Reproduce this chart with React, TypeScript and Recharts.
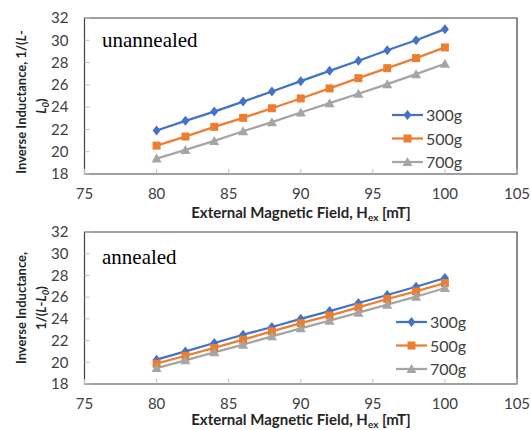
import React from 'react';
import { LineChart, Line, XAxis, YAxis, ReferenceArea, Legend, Label } from 'recharts';

const fieldValues = [80, 82, 84, 86, 88, 90, 92, 94, 96, 98, 100];

const unannealed300 = [21.9, 22.77, 23.6, 24.5, 25.4, 26.33, 27.26, 28.16, 29.1, 30.0, 31.0];
const unannealed500 = [20.55, 21.36, 22.23, 23.04, 23.9, 24.78, 25.68, 26.6, 27.5, 28.4, 29.36];
const unannealed700 = [19.38, 20.16, 20.97, 21.84, 22.65, 23.52, 24.36, 25.2, 26.06, 26.96, 27.9];

const annealed300 = [20.24, 21.0, 21.78, 22.54, 23.25, 24.0, 24.72, 25.46, 26.2, 26.96, 27.76];
const annealed500 = [19.87, 20.6, 21.32, 22.08, 22.85, 23.6, 24.3, 25.06, 25.83, 26.53, 27.3];
const annealed700 = [19.47, 20.18, 20.92, 21.62, 22.39, 23.13, 23.83, 24.57, 25.31, 26.04, 26.84];

const seriesNames = ['300g', '500g', '700g'];
const seriesKeys = ['s300', 's500', 's700'];
const seriesColors = ['#4472C4', '#ED7D31', '#A5A5A5'];

const xTicks = [75, 80, 85, 90, 95, 100, 105];
const yTicks = [18, 20, 22, 24, 26, 28, 30, 32];

const SANS = 'Lato, "Open Sans", sans-serif';
const SERIF = '"Liberation Serif", "Times New Roman", serif';

function buildRows(a: number[], b: number[], c: number[]) {
  return fieldValues.map((x, i) => ({ x, s300: a[i], s500: b[i], s700: c[i] }));
}

function Marker({ cx, cy, kind }: { cx: number; cy: number; kind: number }) {
  const color = seriesColors[kind];
  if (kind === 0) {
    return <polygon points={`${cx},${cy - 5} ${cx + 4},${cy} ${cx},${cy + 5} ${cx - 4},${cy}`} fill={color} />;
  }
  if (kind === 1) {
    return <rect x={cx - 4} y={cy - 4} width={8} height={8} fill={color} />;
  }
  return <polygon points={`${cx},${cy - 5} ${cx + 5},${cy + 4} ${cx - 5},${cy + 4}`} fill={color} />;
}

function renderLegend() {
  return (
    <svg width={100} height={72} style={{ display: 'block' }}>
      {seriesNames.map((name, i) => {
        const y = 12 + i * 23.5;
        return (
          <g key={name}>
            <line x1={0} x2={31} y1={y} y2={y} stroke={seriesColors[i]} strokeWidth={2.25} />
            <Marker cx={15.5} cy={y} kind={i} />
            <text x={34} y={y + 6} fontFamily={SANS} fontSize={16} fill="#404040">
              {name}
            </text>
          </g>
        );
      })}
    </svg>
  );
}

function XTitle({ y }: { y: number }) {
  return (
    <text x={301} y={y} textAnchor="middle" fontFamily={SANS} fontWeight="bold" fontSize={15} fill="#262626">
      External Magnetic Field, H
      <tspan dy={3} fontSize={10}>ex</tspan>
      <tspan dy={-3}> [mT]</tspan>
    </text>
  );
}

interface PanelProps {
  rows: Array<{ x: number; s300: number; s500: number; s700: number }>;
  height: number;
  top: number;
  plotHeight: number;
  note: string;
  noteY: number;
  titleY: number;
  legendTop: number;
  legendLeft: number;
  yTitle: React.ReactNode;
}

function Panel({ rows, height, top, plotHeight, note, noteY, titleY, legendTop, legendLeft, yTitle }: PanelProps) {
  return (
    <LineChart width={531} height={height} data={rows} margin={{ top, right: 14, bottom: 0, left: 0 }}>
      <XAxis
        dataKey="x"
        type="number"
        domain={[75, 105]}
        ticks={xTicks}
        interval={0}
        height={height - top - plotHeight}
        axisLine={false}
        tickSize={-5}
        tickMargin={19}
        tickLine={{ stroke: '#bfbfbf' }}
        tick={{ fill: '#404040', fontSize: 15, fontFamily: SANS }}
      >
        <Label content={() => <XTitle y={titleY} />} />
      </XAxis>
      <YAxis
        type="number"
        domain={[18, 32]}
        ticks={yTicks}
        interval={0}
        width={84.5}
        axisLine={false}
        tickSize={-5}
        tickMargin={21}
        tickLine={{ stroke: '#bfbfbf' }}
        tick={{ fill: '#404040', fontSize: 15, fontFamily: SANS }}
      >
        <Label content={() => <g>{yTitle}</g>} />
      </YAxis>
      <ReferenceArea x1={75} x2={105} y1={18} y2={32} fill="none" stroke="#404040" strokeWidth={1.2} />
      {seriesKeys.map((key, i) => (
        <Line
          key={key}
          dataKey={key}
          name={seriesNames[i]}
          stroke={seriesColors[i]}
          strokeWidth={2.25}
          dot={(p: any) => <Marker key={`${key}-${p.index}`} cx={p.cx} cy={p.cy} kind={i} />}
          activeDot={false}
          isAnimationActive={false}
        />
      ))}
      <Legend
        layout="horizontal"
        verticalAlign="middle"
        align="center"
        content={renderLegend}
        wrapperStyle={{ left: legendLeft, top: legendTop, width: 100, height: 72 }}
      />
      <text x={102} y={noteY} fontFamily={SERIF} fontSize={21} fill="#000">
        {note}
      </text>
    </LineChart>
  );
}

const titleStyle = { fontFamily: SANS, fontWeight: 'bold' as const, fontSize: 13, fill: '#262626' };

export default function App() {
  const topRows = buildRows(unannealed300, unannealed500, unannealed700);
  const bottomRows = buildRows(annealed300, annealed500, annealed700);

  const topYTitle = (
    <>
      <text transform="translate(26,102) rotate(-90)" textAnchor="middle" {...titleStyle}>
        Inverse Inductance, 1/(<tspan fontStyle="italic">L</tspan>-
      </text>
      <text transform="translate(46,106) rotate(-90)" textAnchor="middle" {...titleStyle}>
        <tspan fontStyle="italic">L</tspan>
        <tspan dy={3} fontSize={9.5} fontStyle="italic">0</tspan>
        <tspan dy={-3}>)</tspan>
      </text>
    </>
  );

  const bottomYTitle = (
    <>
      <text transform="translate(26,86) rotate(-90)" textAnchor="middle" {...titleStyle}>
        Inverse Inductance,
      </text>
      <text transform="translate(46,86) rotate(-90)" textAnchor="middle" {...titleStyle}>
        1/(<tspan fontStyle="italic">L</tspan>-<tspan fontStyle="italic">L</tspan>
        <tspan dy={3} fontSize={9.5} fontStyle="italic">0</tspan>
        <tspan dy={-3}>)</tspan>
      </text>
    </>
  );

  return (
    <div style={{ position: 'absolute', left: 0, top: 0, width: 531, height: 430, background: '#fff' }}>
      <Panel
        rows={topRows}
        height={222}
        top={18}
        plotHeight={156}
        note="unannealed"
        noteY={47}
        titleY={218}
        legendTop={103}
        legendLeft={392}
        yTitle={topYTitle}
      />
      <Panel
        rows={bottomRows}
        height={208}
        top={10}
        plotHeight={152}
        note="annealed"
        noteY={42}
        titleY={203}
        legendTop={88}
        legendLeft={396}
        yTitle={bottomYTitle}
      />
    </div>
  );
}
